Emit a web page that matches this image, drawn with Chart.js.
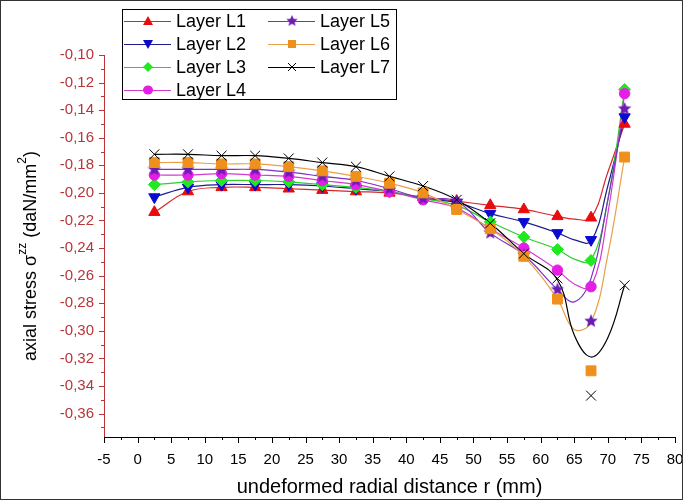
<!DOCTYPE html>
<html><head><meta charset="utf-8">
<script src="https://cdn.jsdelivr.net/npm/chart.js@4.4.0/dist/chart.umd.min.js"></script>
<style>html,body{margin:0;padding:0;background:#fff}#wrap{width:683px;height:500px;position:relative}</style>
</head><body><div id="wrap"><canvas id="c" width="683" height="500"></canvas></div>
<script>
// ---- data ----
const layerNames = ['Layer L1','Layer L2','Layer L3','Layer L4','Layer L5','Layer L6','Layer L7'];
const radialX = [2.5,7.5,12.5,17.5,22.5,27.5,32.5,37.5,42.5,47.5,52.5,57.5,62.5,67.5,72.5];
const L1 = [-0.214,-0.199,-0.196,-0.196,-0.197,-0.198,-0.199,-0.200,-0.203,-0.206,-0.209,-0.212,-0.217,-0.218,-0.150];
const L2 = [-0.203,-0.196,-0.194,-0.194,-0.194,-0.195,-0.197,-0.199,-0.204,-0.207,-0.215,-0.221,-0.229,-0.234,-0.145];
const L3 = [-0.194,-0.192,-0.191,-0.191,-0.192,-0.194,-0.196,-0.199,-0.204,-0.209,-0.221,-0.232,-0.241,-0.249,-0.125];
const L4 = [-0.187,-0.187,-0.186,-0.187,-0.188,-0.191,-0.194,-0.199,-0.205,-0.211,-0.226,-0.240,-0.256,-0.268,-0.128];
const L5 = [-0.183,-0.183,-0.183,-0.183,-0.185,-0.188,-0.191,-0.197,-0.204,-0.206,-0.229,-0.245,-0.270,-0.293,-0.139];
const L6 = [-0.178,-0.178,-0.179,-0.179,-0.181,-0.184,-0.188,-0.193,-0.200,-0.212,-0.226,-0.246,-0.277,-0.329,-0.174];
const L7 = [-0.172,-0.172,-0.173,-0.173,-0.175,-0.178,-0.181,-0.188,-0.195,-0.205,-0.222,-0.244,-0.262,-0.347,-0.267];
// fitted curves
const curveX = [2.5,7.5,12.5,17.5,22.5,27.5,32.5,37.5,42.5,47.5,52.5,57.5,62.5,65,67.5,70,72.5];
const fitL1 = [-0.214,-0.199,-0.196,-0.196,-0.197,-0.198,-0.199,-0.200,-0.203,-0.206,-0.209,-0.212,-0.217,-0.219,-0.218,-0.185,-0.150];
const fitL2 = [-0.203,-0.196,-0.194,-0.194,-0.194,-0.195,-0.197,-0.199,-0.204,-0.207,-0.215,-0.221,-0.229,-0.234,-0.235,-0.195,-0.145];
const fitL3 = [-0.194,-0.192,-0.191,-0.191,-0.192,-0.194,-0.196,-0.199,-0.204,-0.209,-0.221,-0.232,-0.241,-0.248,-0.249,-0.205,-0.125];
const fitL4 = [-0.187,-0.187,-0.186,-0.187,-0.188,-0.191,-0.194,-0.199,-0.205,-0.211,-0.226,-0.240,-0.256,-0.266,-0.268,-0.215,-0.128];
const fitL5 = [-0.183,-0.183,-0.183,-0.183,-0.185,-0.188,-0.191,-0.197,-0.204,-0.206,-0.229,-0.245,-0.270,-0.279,-0.262,-0.205,-0.139];
const fitL6 = [-0.178,-0.178,-0.179,-0.179,-0.181,-0.184,-0.188,-0.193,-0.200,-0.212,-0.226,-0.246,-0.277,-0.299,-0.294,-0.245,-0.174];
const fitL7 = [-0.172,-0.172,-0.173,-0.173,-0.175,-0.178,-0.181,-0.188,-0.195,-0.205,-0.222,-0.244,-0.263,-0.303,-0.319,-0.305,-0.267];
const yTickValues = [-0.36,-0.34,-0.32,-0.30,-0.28,-0.26,-0.24,-0.22,-0.20,-0.18,-0.16,-0.14,-0.12,-0.10];
const xTickValues = [-5,0,5,10,15,20,25,30,35,40,45,50,55,60,65,70,75,80];

// ---- styles ----
const pointSets = [L1,L2,L3,L4,L5,L6,L7];
const fitSets = [fitL1,fitL2,fitL3,fitL4,fitL5,fitL6,fitL7];
const markerColors = ['#e80c0c','#0b0bd0','#22e822','#e41ee4','#6a1cb4','#f0901c','#000000'];
const lineColors = ['#d8262a','#1c1c8e','#2bd02b','#d23ad2','#7a30c4','#e9a048','#000000'];

function makeStar(color, size){
  const c = document.createElement('canvas'); c.width = size; c.height = size;
  const g = c.getContext('2d'); const cx = size/2, cy = size/2, R = size/2, r = R*0.45;
  g.beginPath();
  for(let k=0;k<10;k++){ const a = -Math.PI/2 + k*Math.PI/5; const rr = k%2? r:R;
    g.lineTo(cx+rr*Math.cos(a), cy+rr*Math.sin(a)); }
  g.closePath(); g.fillStyle = color; g.fill(); return c;
}
const starImg = makeStar('#6a1cb4', 14);
const markerStyles = [
  {pointStyle:'triangle', radius:6.5, rotation:0},
  {pointStyle:'triangle', radius:6.5, rotation:180},
  {pointStyle:'rectRot', radius:6, rotation:0},
  {pointStyle:'circle', radius:5.2, rotation:0},
  {pointStyle:starImg, radius:7, rotation:0},
  {pointStyle:'rect', radius:7, rotation:0},
  {pointStyle:'crossRot', radius:7, rotation:0}
];

const datasets = [];
fitSets.forEach((f,i)=>{
  datasets.push({
    label: layerNames[i]+' fit', data: curveX.map((x,k)=>({x:x,y:f[k]})),
    borderColor: lineColors[i], borderWidth: 1.2, pointRadius: 0, tension: 0.4,
    fill:false, order: 20 - i
  });
});
pointSets.forEach((p,i)=>{
  const st = markerStyles[i];
  datasets.push({
    label: layerNames[i], data: radialX.map((x,k)=>({x:x,y:p[k]})),
    showLine:false, pointStyle: st.pointStyle, pointRadius: st.radius, pointRotation: st.rotation,
    pointBackgroundColor: markerColors[i], pointBorderColor: markerColors[i], pointBorderWidth: 1,
    order: 10 - i
  });
});

const RED = '#b8353a';
const deco = {
  id:'deco',
  beforeDraw(chart){ const c = chart.ctx; c.save(); c.fillStyle='#fff'; c.fillRect(0,0,chart.width,chart.height); c.restore(); },
  afterDraw(chart){
    const c = chart.ctx, a = chart.chartArea, xs = chart.scales.x, ys = chart.scales.y;
    c.save();
    // y axis line + ticks
    c.strokeStyle = RED; c.lineWidth = 1;
    c.beginPath(); c.moveTo(a.left+0.5, a.top); c.lineTo(a.left+0.5, a.bottom); c.stroke();
    for(let k=0;k<=27;k++){
      const v = -0.37 + k*0.01; const py = Math.round(ys.getPixelForValue(v))+0.5;
      if (py < a.top-1) continue;
      const len = (k%2===1) ? 5 : 3;
      c.beginPath(); c.moveTo(a.left, py); c.lineTo(a.left-len, py); c.stroke();
    }
    // x axis line + ticks
    c.strokeStyle = '#000';
    c.beginPath(); c.moveTo(a.left, a.bottom+0.5); c.lineTo(a.right, a.bottom+0.5); c.stroke();
    for(let k=0;k<=34;k++){
      const v = -5 + k*2.5; const px = Math.round(xs.getPixelForValue(v))+0.5;
      const len = (k%2===0) ? 6 : 3;
      c.beginPath(); c.moveTo(px, a.bottom); c.lineTo(px, a.bottom+len); c.stroke();
    }
    // axis titles
    c.fillStyle = '#000';
    c.font = '20px "Liberation Sans", Arial, sans-serif';
    c.textAlign = 'center'; c.textBaseline = 'middle';
    c.fillText('undeformed radial distance r (mm)', (a.left+a.right)/2, 487);
    // y title with superscripts
    const big = '18px "Liberation Sans", Arial, sans-serif', small = '12px "Liberation Sans", Arial, sans-serif';
    const parts = [['axial stress \u03c3',big,0],['zz',small,-8],[' (daN/mm',big,0],['2',small,-8],[')',big,0]];
    let total = 0; parts.forEach(p=>{ c.font = p[1]; total += c.measureText(p[0]).width; });
    c.translate(31, 256); c.rotate(-Math.PI/2);
    c.textAlign = 'left'; c.textBaseline = 'middle';
    let x0 = -total/2;
    parts.forEach(p=>{ c.font = p[1]; c.fillText(p[0], x0, p[2]); x0 += c.measureText(p[0]).width; });
    c.setTransform(1,0,0,1,0,0);
    // legend
    const bx = 122.5, by = 9.5, bw = 274, bh = 90;
    c.fillStyle = '#fff'; c.fillRect(bx,by,bw,bh);
    c.strokeStyle = '#000'; c.lineWidth = 1; c.strokeRect(bx,by,bw,bh);
    const rows = [21,44,67,90];
    layerNames.forEach((name,i)=>{
      const col = i<4 ? 0 : 1, row = i<4 ? i : i-4;
      const lx = col===0 ? 124 : 268, y = rows[row];
      c.strokeStyle = lineColors[i]; c.lineWidth = 1.2;
      c.beginPath(); c.moveTo(lx, y+0.5); c.lineTo(lx+47, y+0.5); c.stroke();
      drawMarker(c, i, lx+24, y);
      c.fillStyle = '#000'; c.font = '18px "Liberation Sans", Arial, sans-serif';
      c.textAlign='left'; c.textBaseline='middle';
      c.fillText(name, lx+52, y+1);
    });
    // outer frame
    c.strokeStyle = '#333'; c.lineWidth = 1; c.strokeRect(0.5,0.5,chart.width-1,chart.height-1);
    c.restore();
  }
};
function drawMarker(c, i, x, y){
  const col = markerColors[i];
  c.save(); c.fillStyle = col; c.strokeStyle = col; c.lineWidth = 1;
  if (i===4){ c.drawImage(starImg, x-6, y-6, 12, 12); c.restore(); return; }
  c.beginPath();
  if (i===0){ c.moveTo(x, y-5); c.lineTo(x+5, y+4); c.lineTo(x-5, y+4); c.closePath(); c.fill(); }
  else if (i===1){ c.moveTo(x, y+5); c.lineTo(x+5, y-4); c.lineTo(x-5, y-4); c.closePath(); c.fill(); }
  else if (i===2){ c.moveTo(x, y-5); c.lineTo(x+5, y); c.lineTo(x, y+5); c.lineTo(x-5, y); c.closePath(); c.fill(); }
  else if (i===3){ c.ellipse(x, y, 5, 4.5, 0, 0, Math.PI*2); c.fill(); }
  else if (i===5){ c.fillRect(x-4, y-4, 8, 8); }
  else if (i===6){ c.moveTo(x-4,y-4); c.lineTo(x+4,y+4); c.moveTo(x+4,y-4); c.lineTo(x-4,y+4); c.stroke(); }
  c.restore();
}

new Chart(document.getElementById('c'), {
  type: 'line',
  data: { datasets },
  options: {
    responsive:false, animation:false, devicePixelRatio:1,
    layout: { padding: { top: 55, right: 6, left: 0, bottom: 0 } },
    plugins: { legend:{display:false}, tooltip:{enabled:false}, title:{display:false} },
    scales: {
      x: { type:'linear', min:-5, max:80,
        afterBuildTicks: s => { s.ticks = xTickValues.map(v=>({value:v})); },
        afterFit: s => { s.height = 63; s.paddingLeft = 0; s.paddingRight = 0; },
        grid:{display:false, drawTicks:false}, border:{display:false},
        ticks:{ padding: 14, color:'#000', font:{family:'"Liberation Sans", Arial, sans-serif', size:15}, maxRotation:0, autoSkip:false,
          callback: v => String(v) }
      },
      y: { type:'linear', min:-0.377, max:-0.10,
        afterBuildTicks: s => { s.ticks = yTickValues.map(v=>({value:v})); },
        afterFit: s => { s.width = 104; s.paddingTop = 0; s.paddingBottom = 0; },
        grid:{display:false, drawTicks:false}, border:{display:false},
        ticks:{ padding: 10, color: RED, font:{family:'"Liberation Sans", Arial, sans-serif', size:15}, autoSkip:false,
          callback: v => v.toFixed(2).replace('.', ',') }
      }
    }
  },
  plugins: [deco]
});
</script></body></html>
